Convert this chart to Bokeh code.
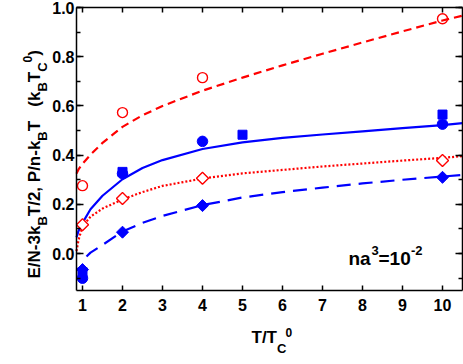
import math
from bokeh.plotting import figure
from bokeh.models import (Label, LinearAxis, FixedTicker, SingleIntervalTicker,
                          Range1d, CustomJSTickFormatter)
from bokeh.embed import file_html
from bokeh.resources import INLINE

# ---------------- data ----------------
pts_x = [1, 2, 4, 10]
red_circle_y = [0.276, 0.573, 0.715, 0.954]
red_diamond_y = [0.117, 0.224, 0.306, 0.378]
blue_circle_y = [-0.100, 0.325, 0.456, 0.526]
blue_square_x = [1, 2, 5, 10]
blue_square_y = [-0.075, 0.332, 0.483, 0.565]
blue_diamond_y = [-0.065, 0.087, 0.195, 0.310]

curve_x = [0.85, 0.9, 1.0, 1.2, 1.5, 2, 2.5, 3, 4, 5, 6, 7, 8, 9, 10, 10.5]
red_dashed_y = [0.325, 0.342, 0.365, 0.402, 0.450, 0.515, 0.562, 0.600, 0.662,
                0.715, 0.765, 0.812, 0.858, 0.903, 0.947, 0.967]
blue_solid_y = [0.066, 0.092, 0.125, 0.180, 0.235, 0.302, 0.348, 0.380, 0.425,
                0.452, 0.470, 0.484, 0.497, 0.510, 0.522, 0.530]
red_dotted_y = [0.010, 0.055, 0.110, 0.150, 0.183, 0.220, 0.250, 0.275, 0.305,
                0.326, 0.340, 0.354, 0.366, 0.378, 0.389, 0.396]
blue_dashed_x = [1.1, 1.2, 1.5, 2, 2.5, 3, 4, 5, 6, 7, 8, 9, 10, 10.5]
blue_dashed_y = [-0.012, 0.004, 0.035, 0.090, 0.125, 0.153, 0.197, 0.228, 0.250,
                 0.268, 0.285, 0.300, 0.313, 0.320]

x_ticks = [1, 2, 3, 4, 5, 6, 7, 8, 9, 10]
X0, X1 = 0.85, 10.5          # axis box limits (data)
Y0, Y1 = -0.15, 1.0

RED = "#FF0000"
BLUE = "#0000FF"
FONT = "Liberation Sans"
W, H = 463, 364
BL, BR, BT, BB = 76, 462, 7, 290   # axis box edges in page pixels

# the frame fills the whole canvas; the ranges are widened so that the
# axis box (X0..X1, Y0..Y1) sits at BL..BR, BT..BB and texts are not clipped
sxu = (BR - BL) / (X1 - X0)
syu = (BB - BT) / (Y1 - Y0)
xr = Range1d(X0 - BL / sxu, X1 + (W - BR) / sxu)
yr = Range1d(Y0 - (H - BB) / syu, Y1 + BT / syu)

p = figure(width=W, height=H, output_backend="svg", toolbar_location=None,
           x_range=xr, y_range=yr, x_axis_location=None, y_axis_location=None,
           min_border_left=0, min_border_right=0, min_border_top=0,
           min_border_bottom=0)
p.xgrid.visible = False
p.ygrid.visible = False
p.outline_line_color = None
p.background_fill_color = "white"

xt = FixedTicker(ticks=x_ticks)
yt = SingleIntervalTicker(interval=0.2, num_minor_ticks=2)
yfmt = CustomJSTickFormatter(code="return tick.toFixed(1);")
blank = CustomJSTickFormatter(code="return '';")

bottom = LinearAxis(ticker=xt, major_label_standoff=8, fixed_location=Y0,
                    bounds=(X0, X1))
left = LinearAxis(ticker=yt, formatter=yfmt, major_label_standoff=2,
                  fixed_location=X0, bounds=(Y0, Y1))
top = LinearAxis(ticker=xt, formatter=blank, major_label_standoff=0,
                 fixed_location=Y1, bounds=(X0, X1))
right = LinearAxis(ticker=yt, formatter=blank, major_label_standoff=0,
                   fixed_location=X1, bounds=(Y0, Y1))
p.add_layout(bottom, "below")
p.add_layout(left, "left")
p.add_layout(top, "above")
p.add_layout(right, "right")

for ax in [bottom, left, top, right]:
    ax.axis_line_width = 1.5
    ax.axis_line_color = "black"
    ax.major_tick_line_width = 1.5
    ax.minor_tick_line_width = 1.5
    ax.major_tick_out = 0
    ax.minor_tick_out = 0
    ax.major_label_text_font = FONT
    ax.major_label_text_font_style = "bold"
    ax.major_label_text_color = "black"
    ax.major_label_text_font_size = "16px"
for ax in [top, right]:
    ax.major_label_text_font_size = "1px"
for ax in [bottom, top]:
    ax.major_tick_in = 5
    ax.minor_tick_in = 0
for ax in [left, right]:
    ax.major_tick_in = 7
    ax.minor_tick_in = 4

# ---------------- curves ----------------
p.line(curve_x, red_dashed_y, line_color=RED, line_width=2.2, line_dash="8 5")
p.line(curve_x, blue_solid_y, line_color=BLUE, line_width=2.2)
p.line(curve_x, red_dotted_y, line_color=RED, line_width=2.2, line_dash="2 2")
p.line(blue_dashed_x, blue_dashed_y, line_color=BLUE, line_width=2.2, line_dash="14 8")

# ---------------- points ----------------
p.scatter(pts_x, red_circle_y, marker="circle", size=10, fill_color=None,
          line_color=RED, line_width=1.4)
p.scatter(pts_x, red_diamond_y, marker="square", angle=math.pi / 4, size=8.5,
          fill_color="white", line_color=RED, line_width=1.4)
p.scatter(pts_x, blue_circle_y, marker="circle", size=10.5, fill_color=BLUE,
          line_color=BLUE)
p.scatter(blue_square_x, blue_square_y, marker="square", size=9, fill_color=BLUE,
          line_color=BLUE)
p.scatter(pts_x, blue_diamond_y, marker="square", angle=math.pi / 4, size=8.5,
          fill_color=BLUE, line_color=BLUE)

# ---------------- texts (screen units: from frame left / frame bottom) ----------------
def lab(text, px, py, size, angle=0.0):
    p.add_layout(Label(x=px, y=H - py, x_units="screen", y_units="screen",
                       text=text, text_font=FONT, text_font_style="bold",
                       text_font_size=f"{size}px", text_color="black",
                       text_align="left", text_baseline="alphabetic",
                       angle=angle))


ADV = {"E": .667, "/": .278, "N": .722, "-": .333, "3": .556, "k": .556,
       "T": .611, "2": .556, ",": .278, " ": .278, "P": .667, "n": .611,
       "(": .333, ")": .333, "B": .722, "C": .722, "0": .556, "a": .556,
       "=": .584, "1": .556}


def width(t, size):
    return sum(ADV[c] for c in t) * size


# y-axis title, rotated, made of pieces (main / sub / sup)
MAIN, SMALL = 17, 13
pieces = [("E/N-3k", 0, MAIN), ("B", 8, SMALL), ("T/2, P/n-k", 0, MAIN),
          ("B", 8, SMALL), ("T   (k", 0, MAIN), ("B", 8, SMALL), ("T", 0, MAIN),
          ("C", 8, SMALL), ("0", -7, 12), (")", 0, MAIN)]
base_x, cur_y = 34, 278
for t, off, s in pieces:
    lab(t.replace(" ", "\u00a0"), base_x + off, cur_y, s, angle=math.pi / 2)
    cur_y -= width(t, s)

# x-axis title
lab("T/T", 251, 337, MAIN)
lab("C", 251 + width("T/T", MAIN), 348, SMALL)
lab("0", 285, 332, 12)

# annotation na^3 = 10^-2
lab("na", 348, 258, 19)
lab("3", 371, 250, 13)
lab("=10", 378, 258, 19)
lab("-2", 410.5, 250, 13)

open("out.html", "w").write(file_html(p, INLINE))
